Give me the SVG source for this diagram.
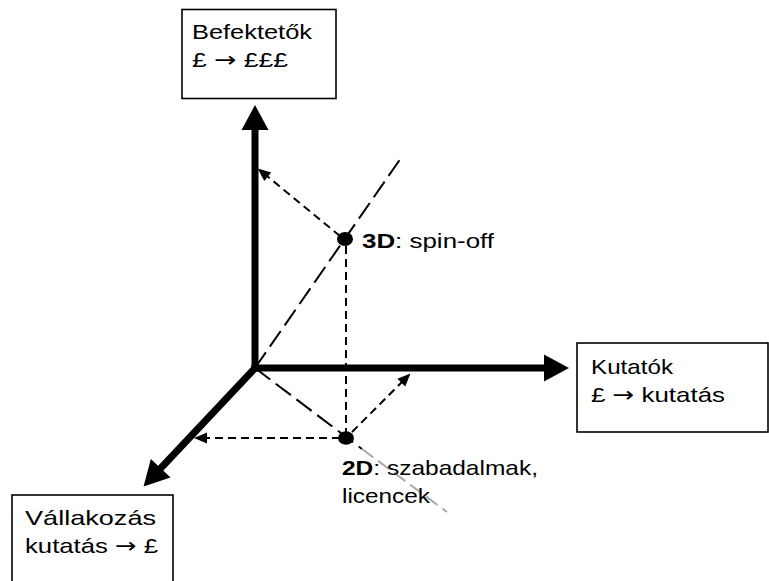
<svg xmlns="http://www.w3.org/2000/svg" width="769" height="581" viewBox="0 0 769 581">
<style>
  .box { fill: #ffffff; stroke: #000000; stroke-width: 1.6; }
  .lbl { font-family: "Liberation Sans", Arial, sans-serif; font-size: 21px; fill: #000000; }
  .arr { font-family: "DejaVu Sans", "Liberation Sans", sans-serif; }
  .b { font-weight: bold; }
  .axis { stroke: #000000; stroke-width: 7; fill: none; }
  .long { stroke: #000000; stroke-width: 2; fill: none; stroke-dasharray: 19 7; }
  .grey { stroke: #aaaaaa; stroke-width: 2; fill: none; stroke-dasharray: 14 6; }
  .proj { stroke: #000000; stroke-width: 2; fill: none; stroke-dasharray: 8 5; }
</style>
<defs>
  <marker id="bigArrow" markerUnits="userSpaceOnUse" markerWidth="25" markerHeight="27" refX="1" refY="13.5" orient="auto" overflow="visible">
    <path d="M0,0 L25,13.5 L0,27 z" fill="#000000"/>
  </marker>
  <marker id="smallArrow" markerUnits="userSpaceOnUse" markerWidth="13" markerHeight="11" refX="1" refY="5.5" orient="auto" overflow="visible">
    <path d="M0,0 L13,5.5 L0,11 z" fill="#000000"/>
  </marker>
</defs>

<g id="connectors">
  <line class="long" x1="255" y1="368" x2="401" y2="158"/>
  <line class="long" x1="255" y1="368" x2="362" y2="449"/>
  <line class="grey" x1="362" y1="449" x2="447" y2="512"/>
  <line class="proj" x1="346" y1="246" x2="346" y2="432"/>
  <line class="proj" x1="340" y1="438" x2="206" y2="438" marker-end="url(#smallArrow)"/>
  <line class="proj" x1="352" y1="432" x2="402" y2="382" marker-end="url(#smallArrow)"/>
  <line class="proj" x1="340" y1="236" x2="267" y2="176" marker-end="url(#smallArrow)"/>
  <line class="axis" x1="255" y1="371.5" x2="255" y2="129" marker-end="url(#bigArrow)"/>
  <line class="axis" x1="251.5" y1="368" x2="545" y2="368" marker-end="url(#bigArrow)"/>
  <line class="axis" x1="257" y1="366" x2="160" y2="469" marker-end="url(#bigArrow)"/>
</g>

<g id="point-3d">
  <ellipse cx="345" cy="239" rx="8" ry="7" fill="#000000"/>
  <text class="lbl" x="362" y="248" textLength="132" lengthAdjust="spacingAndGlyphs"><tspan class="b">3D</tspan>: spin-off</text>
</g>

<g id="point-2d">
  <ellipse cx="346" cy="438" rx="8" ry="6.8" fill="#000000"/>
  <text class="lbl" x="342" y="475" textLength="196" lengthAdjust="spacingAndGlyphs"><tspan class="b">2D</tspan>: szabadalmak,</text>
  <text class="lbl" x="342" y="503" textLength="88" lengthAdjust="spacingAndGlyphs">licencek</text>
</g>

<g id="befektetok">
  <rect class="box" x="182" y="9.5" width="154" height="89"/>
  <text class="lbl" x="192" y="39" textLength="120" lengthAdjust="spacingAndGlyphs">Befektetők</text>
  <text class="lbl" x="192" y="67" textLength="96" lengthAdjust="spacingAndGlyphs">£ <tspan class="arr">→</tspan> £££</text>
</g>

<g id="kutatok">
  <rect class="box" x="577" y="343" width="191" height="89"/>
  <text class="lbl" x="591" y="374" textLength="82" lengthAdjust="spacingAndGlyphs">Kutatók</text>
  <text class="lbl" x="591" y="402" textLength="134" lengthAdjust="spacingAndGlyphs">£ <tspan class="arr">→</tspan> kutatás</text>
</g>

<g id="vallakozas">
  <rect class="box" x="12" y="495" width="161" height="95"/>
  <text class="lbl" x="25" y="525" textLength="131" lengthAdjust="spacingAndGlyphs">Vállakozás</text>
  <text class="lbl" x="25" y="553" textLength="133" lengthAdjust="spacingAndGlyphs">kutatás <tspan class="arr">→</tspan> £</text>
</g>
</svg>
